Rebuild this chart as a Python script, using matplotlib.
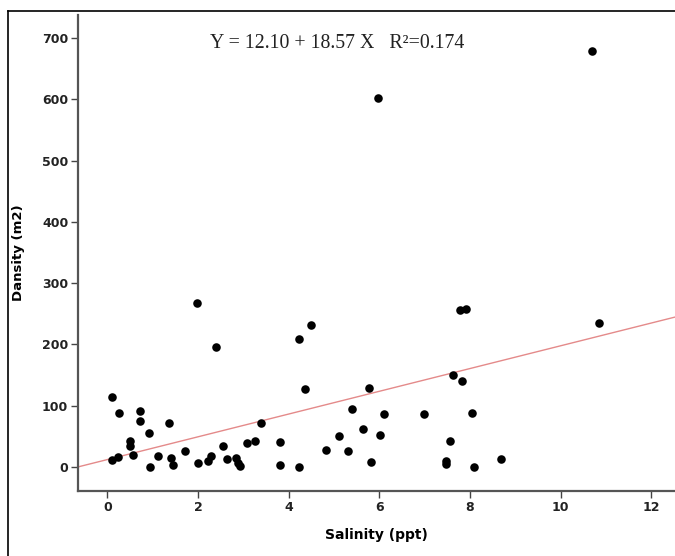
import matplotlib
matplotlib.use("Agg")
import matplotlib.pyplot as plt
from matplotlib.lines import Line2D

# salinity (ppt) vs density (m2)
salinity = [0.10, 0.25, 0.73, 0.73, 0.92, 1.36, 0.50, 0.51, 0.10, 0.24,
            0.57, 1.11, 0.94, 1.40, 1.45, 1.71, 2.00, 2.21, 2.28, 2.55,
            2.65, 2.83, 2.88, 2.92, 3.09, 3.26, 3.40, 3.81, 3.81, 4.23,
            4.37, 4.83, 5.10, 5.30, 5.40, 5.63, 5.77, 5.81, 6.01, 6.10,
            1.97, 2.40, 4.23, 4.50, 5.98, 10.70, 10.84, 7.77, 7.90, 7.62,
            7.82, 8.05, 8.08, 8.68, 6.99, 7.48, 7.48, 7.55]
density = [114, 88, 92, 75, 56, 72, 42, 35, 12, 16,
           20, 18, 0, 14, 3, 26, 6, 9, 18, 35,
           13, 14, 6, 1, 39, 43, 72, 40, 4, 0,
           128, 28, 50, 26, 95, 62, 129, 8, 52, 86,
           267, 196, 209, 232, 602, 678, 235, 256, 257, 150,
           141, 88, 0, 13, 86, 9, 5, 42]

intercept = 12.10
slope = 18.57
r2 = 0.174

xticks = [0, 2, 4, 6, 8, 10, 12]
yticks = [0, 100, 200, 300, 400, 500, 600, 700]

fig = plt.figure(figsize=(6.75, 5.56), dpi=100)
ax = fig.add_axes([0.1156, 0.1169, 0.8844, 0.8561])

ax.axline((0, intercept), slope=slope, color='#e48a8a', lw=1.0, zorder=1)
ax.scatter(salinity, density, s=38, color='black', zorder=3, linewidths=0)

ax.set_xlim(-0.646, 12.52)
ax.set_ylim(-39.2, 737.5)
ax.set_xticks(xticks)
ax.set_yticks(yticks)

for side in ['top', 'right']:
    ax.spines[side].set_visible(False)
for side in ['left', 'bottom']:
    ax.spines[side].set_color('#555555')
    ax.spines[side].set_linewidth(1.6)

ax.tick_params(axis='both', direction='out', length=5, width=1, color='#444444',
               labelsize=9, labelcolor='#222222', pad=2)
for lab in ax.get_xticklabels() + ax.get_yticklabels():
    lab.set_fontweight('bold')

ax.set_xlabel('Salinity (ppt)', fontsize=10, fontweight='bold', labelpad=10)
ax.set_ylabel('Dansity (m2)', fontsize=9.5, fontweight='bold', labelpad=12)

ax.text(0.434, 0.94, 'Y = 12.10 + 18.57 X   R\u00b2=%.3f' % r2, transform=ax.transAxes,
        fontsize=14.3, family='Liberation Serif', color='#222222', ha='center', va='center')

# outer frame (left and top edges visible)
fx, fy = 8 / 675, 1 - 11 / 556
fig.add_artist(Line2D([fx, fx], [0, fy], color='black', lw=1.2, transform=fig.transFigure))
fig.add_artist(Line2D([fx, 1], [fy, fy], color='black', lw=1.2, transform=fig.transFigure))

fig.savefig('out.png', dpi=100)
